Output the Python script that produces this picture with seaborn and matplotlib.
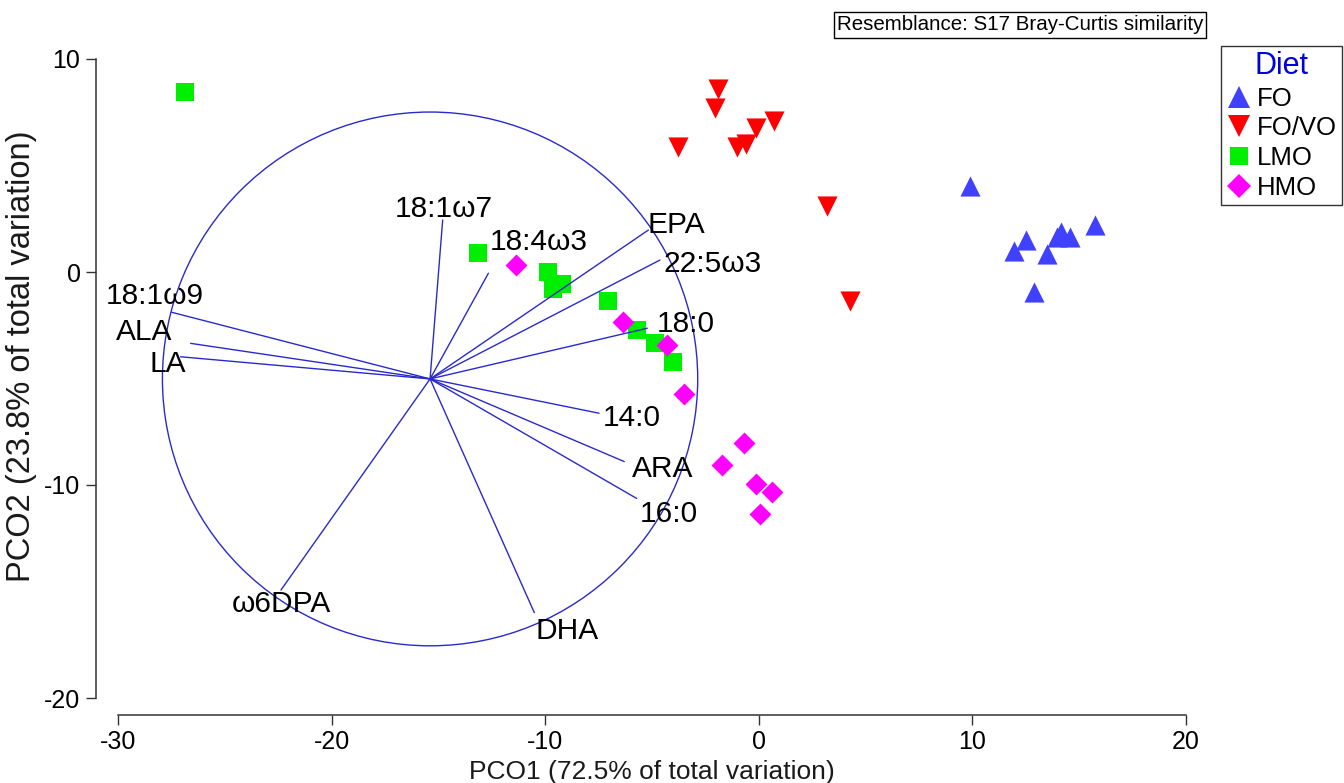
import numpy as np
import pandas as pd
import matplotlib
matplotlib.use("Agg")
import matplotlib.pyplot as plt
from matplotlib.patches import Circle
from matplotlib.lines import Line2D
import seaborn as sns

# --- sample scores on the first two principal coordinates ---
fo_x = [9.89, 11.93, 12.50, 13.48, 13.94, 14.13, 14.55, 15.74, 12.89]
fo_y = [4.06, 0.99, 1.50, 0.84, 1.66, 1.88, 1.63, 2.20, -0.93]

fovo_x = [-1.90, -2.05, 0.72, -0.14, -0.61, -1.04, -3.79, 3.17, 4.29]
fovo_y = [8.58, 7.69, 7.10, 6.74, 6.02, 5.85, 5.89, 3.08, -1.38]

lmo_x = [-26.85, -13.13, -9.87, -9.20, -9.62, -7.08, -5.70, -4.84, -4.03]
lmo_y = [8.43, 0.90, 0.00, -0.55, -0.81, -1.34, -2.70, -3.33, -4.23]

hmo_x = [-11.35, -6.34, -4.30, -3.48, -0.69, -1.74, -0.14, 0.64, 0.06]
hmo_y = [0.35, -2.35, -3.41, -5.71, -8.04, -9.04, -9.96, -10.31, -11.37]

diets = ["FO", "FO/VO", "LMO", "HMO"]

# --- fatty acid vectors (origin and end points) ---
vec_origin = (-15.39, -5.02)
vec_radius = 12.53
vec_names = ["18:1ω7", "18:4ω3", "EPA", "22:5ω3", "18:0", "14:0", "ARA",
             "16:0", "DHA", "ω6DPA", "LA", "ALA", "18:1ω9"]
vec_x = [-14.80, -12.66, -5.17, -4.63, -5.22, -7.48, -6.30,
         -5.72, -10.51, -22.37, -27.07, -26.60, -27.49]
vec_y = [2.44, -0.06, 1.97, 0.56, -2.64, -6.63, -8.90,
         -10.63, -15.99, -14.93, -3.98, -3.35, -1.89]

x_ticks = [-30, -20, -10, 0, 10, 20]
y_ticks = [-20, -10, 0, 10]

# label placement relative to each vector tip (pixels: right, up)
label_offsets = {
    "18:1ω7": (1, 3), "18:4ω3": (50, 23), "EPA": (28, -3),
    "22:5ω3": (53, -12), "18:0": (38, -4), "14:0": (33, -13),
    "ARA": (38, -15), "16:0": (32, -24), "DHA": (33, -26),
    "ω6DPA": (0, -22), "LA": (-13, -15), "ALA": (-46, 3),
    "18:1ω9": (-17, 8),
}

palette = {"FO": "#4040FF", "FO/VO": "#FF0000", "LMO": "#00EE00", "HMO": "#FF00FF"}
markers = {"FO": "^", "FO/VO": "v", "LMO": "s", "HMO": "D"}
sizes = {"FO": 210, "FO/VO": 210, "LMO": 169, "HMO": 125}

df = pd.concat([
    pd.DataFrame({"PCO1": fo_x, "PCO2": fo_y, "Diet": "FO"}),
    pd.DataFrame({"PCO1": fovo_x, "PCO2": fovo_y, "Diet": "FO/VO"}),
    pd.DataFrame({"PCO1": lmo_x, "PCO2": lmo_y, "Diet": "LMO"}),
    pd.DataFrame({"PCO1": hmo_x, "PCO2": hmo_y, "Diet": "HMO"}),
], ignore_index=True)

sns.set_theme(style="white")
plt.rcParams["font.family"] = ["Liberation Sans", "DejaVu Sans"]
plt.rcParams["axes.unicode_minus"] = False
plt.rcParams["text.color"] = "black"
plt.rcParams["axes.labelcolor"] = "#1a1a1a"
plt.rcParams["xtick.labelcolor"] = "black"
plt.rcParams["ytick.labelcolor"] = "black"

fig = plt.figure(figsize=(13.44, 7.83), dpi=100)
ax = fig.add_axes([118 / 1344, 85 / 783, 1068 / 1344, 639 / 783])

for d in diets:
    sns.scatterplot(data=df[df["Diet"] == d], x="PCO1", y="PCO2",
                    color=palette[d], marker=markers[d], s=sizes[d],
                    linewidth=0, ax=ax, zorder=2, clip_on=False)

line_col = "#2A2ACC"
ax.add_patch(Circle(vec_origin, vec_radius, fill=False, edgecolor=line_col,
                    linewidth=1.0, zorder=3, clip_on=False))
for name, vx, vy in zip(vec_names, vec_x, vec_y):
    ax.plot([vec_origin[0], vx], [vec_origin[1], vy], color=line_col,
            linewidth=1.0, zorder=3, clip_on=False)
    dx, dy = label_offsets[name]
    ax.annotate(name, xy=(vx, vy), xytext=(dx, dy), textcoords="offset pixels",
                ha="center", va="baseline", fontsize=21.5, color="black", zorder=4)

ax.set_xlim(-30, 20)
ax.set_ylim(-20, 10)
ax.set_xticks(x_ticks)
ax.set_yticks(y_ticks)
ax.tick_params(axis="both", which="major", direction="out", length=7, width=1.0,
               color="#333333", labelsize=18, pad=4, bottom=True, left=True)

for side in ["top", "right"]:
    ax.spines[side].set_visible(False)
ax.spines["left"].set_position(("outward", 16))
ax.spines["bottom"].set_position(("outward", 12))
ax.spines["left"].set_bounds(-20, 10)
ax.spines["bottom"].set_bounds(-30, 20)
for side in ["left", "bottom"]:
    ax.spines[side].set_color("#333333")
    ax.spines[side].set_linewidth(1.1)

ax.set_xlabel("PCO1 (72.5% of total variation)", fontsize=19, labelpad=4)
ax.set_ylabel("PCO2 (23.8% of total variation)", fontsize=23.5)
ax.yaxis.set_label_coords(-0.0755, 0.535)
ax.grid(False)

handles = [Line2D([], [], linestyle="none", marker=markers[d], color=palette[d],
                  markersize=np.sqrt(sizes[d]) * 1.05, markeredgewidth=0)
           for d in diets]
leg = fig.legend(handles, diets, title="Diet", loc="upper right",
                 bbox_to_anchor=(1342 / 1344, 1 - 46 / 783), fontsize=18.5,
                 title_fontsize=22, frameon=True, fancybox=False,
                 handletextpad=0.2, handlelength=1.0, borderpad=0.2,
                 labelspacing=0.22, borderaxespad=0)
leg.get_title().set_color("#0000DD")
leg.get_frame().set_edgecolor("black")
leg.get_frame().set_linewidth(1.0)

fig.text(1020 / 1344, 1 - 25 / 783, "Resemblance: S17 Bray-Curtis similarity",
         ha="center", va="center", fontsize=14.8,
         bbox=dict(boxstyle="square,pad=0.15", facecolor="white",
                   edgecolor="black", linewidth=1.0))

fig.savefig("out.png", dpi=100)
